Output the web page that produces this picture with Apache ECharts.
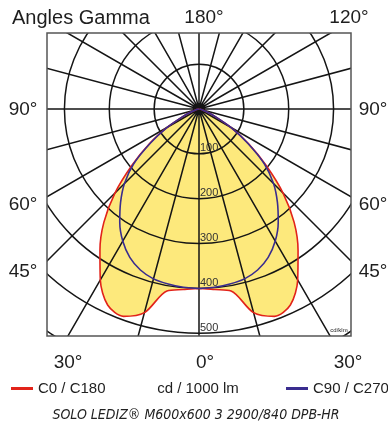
<!DOCTYPE html>
<html>
<head>
<meta charset="utf-8">
<script src="https://cdn.jsdelivr.net/npm/echarts@6/dist/echarts.min.js"></script>
<style>
  html, body { margin: 0; padding: 0; background: #fff; }
  #chart { width: 388px; height: 426px; }
</style>
</head>
<body>
<div id="chart"></div>
<script>
// gamma angles (deg) and intensities in cd / 1000 lm
var gamma = [0, 5, 10, 15, 20, 25, 30, 35, 40, 45, 50, 55, 60, 65, 70, 75, 80, 85, 90];
var c0c180 = [400, 404, 412, 470, 492, 482, 440, 385, 330, 265, 195, 135, 82, 40, 18, 8, 3, 1, 0];
var c90c270 = [400, 399, 396, 392, 382, 365, 340, 308, 272, 235, 190, 132, 82, 40, 18, 8, 3, 1, 0];
var ringLabels = [100, 200, 300, 400, 500];

var FONT = "Liberation Sans, Arial, sans-serif";

// left half uses 360 - gamma, right half uses gamma
function outline(vals) {
  var pts = [];
  for (var i = gamma.length - 1; i > 0; i--) pts.push([vals[i], 360 - gamma[i]]);
  pts.push([vals[0], 0]);
  for (var j = 1; j < gamma.length; j++) pts.push([vals[j], gamma[j]]);
  return pts;
}

function txt(x, y, s, size, align) {
  return {
    type: "text", z: 52, x: x, y: y,
    style: { text: s, fill: "#1e1e1e", font: size + "px " + FONT, align: align || "center", verticalAlign: "middle" }
  };
}

function legendAt(left, name) {
  return {
    z: 60, left: left, top: 381, padding: 0,
    icon: "rect", itemWidth: 22, itemHeight: 3,
    textStyle: { fontSize: 15, color: "#222", fontFamily: FONT },
    data: [name]
  };
}

var chart = echarts.init(document.getElementById("chart"));
var option = {
  animation: false,
  polar: { center: [199, 109], radius: 314 },
  angleAxis: {
    type: "value", min: 0, max: 360, interval: 15,
    startAngle: 270, clockwise: false, z: 3,
    axisLine: { show: false }, axisTick: { show: false }, axisLabel: { show: false },
    splitLine: { show: true, lineStyle: { color: "#151515", width: 1.5 } }
  },
  radiusAxis: {
    type: "value", min: 0, max: 700, interval: 100, z: 3,
    axisLine: { show: false }, axisTick: { show: false },
    splitLine: { show: true, lineStyle: { color: "#151515", width: 1.5 } },
    axisLabel: {
      show: true, margin: 0, fontSize: 11, color: "#333", fontFamily: FONT,
      align: "left", verticalAlign: "bottom", padding: [0, 0, 0, 1],
      formatter: function (v) { return ringLabels.indexOf(v) >= 0 ? String(v) : ""; }
    }
  },
  legend: [legendAt(11, "C0 / C180"), legendAt(286, "C90 / C270")],
  series: [
    {
      name: "fill", type: "line", coordinateSystem: "polar", z: 1, silent: true,
      showSymbol: false, smooth: 0.3, data: outline(c0c180),
      lineStyle: { width: 0 }, areaStyle: { color: "#fde97c", opacity: 1 }
    },
    {
      name: "C0 / C180", type: "line", coordinateSystem: "polar", z: 5,
      showSymbol: false, smooth: 0.3, data: outline(c0c180),
      itemStyle: { color: "#e2231a" }, lineStyle: { color: "#e2231a", width: 1.6 }
    },
    {
      name: "C90 / C270", type: "line", coordinateSystem: "polar", z: 6,
      showSymbol: false, smooth: 0.3, data: outline(c90c270),
      itemStyle: { color: "#3a2d8f" }, lineStyle: { color: "#3a2d8f", width: 1.6 }
    }
  ],
  graphic: [
    { type: "rect", z: 50, shape: { x: 0, y: 0, width: 388, height: 33 }, style: { fill: "#fff" } },
    { type: "rect", z: 50, shape: { x: 0, y: 336, width: 388, height: 90 }, style: { fill: "#fff" } },
    { type: "rect", z: 50, shape: { x: 0, y: 0, width: 47, height: 426 }, style: { fill: "#fff" } },
    { type: "rect", z: 50, shape: { x: 351, y: 0, width: 37, height: 426 }, style: { fill: "#fff" } },
    { type: "rect", z: 51, shape: { x: 47, y: 33, width: 304, height: 303 }, style: { fill: "none", stroke: "#555", lineWidth: 1.5 } },
    txt(12, 18, "Angles Gamma", 20, "left"),
    txt(204, 18, "180°", 19),
    txt(349, 18, "120°", 19),
    txt(23, 110, "90°", 19),
    txt(23, 205, "60°", 19),
    txt(23, 272, "45°", 19),
    txt(373, 110, "90°", 19),
    txt(373, 205, "60°", 19),
    txt(373, 272, "45°", 19),
    txt(68, 363, "30°", 19),
    txt(205, 363, "0°", 19),
    txt(348, 363, "30°", 19),
    txt(339, 330, "cd/klm", 6),
    txt(198, 389, "cd / 1000 lm", 15),
    {
      type: "text", z: 52, x: 196, y: 415,
      style: { text: "SOLO LEDIZ® M600x600 3 2900/840 DPB-HR", fill: "#222",
        font: "italic 14px DejaVu Sans Condensed, DejaVu Sans, sans-serif", align: "center", verticalAlign: "middle" }
    }
  ]
};
chart.setOption(option);
</script>
</body>
</html>
